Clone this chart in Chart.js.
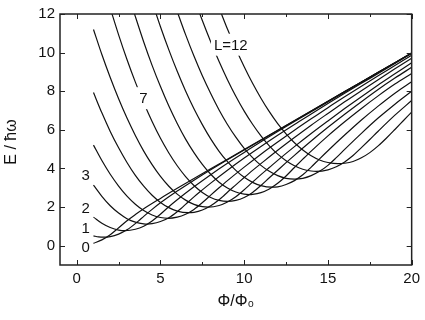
<!DOCTYPE html>
<html><head><meta charset="utf-8">
<script src="https://cdn.jsdelivr.net/npm/chart.js@4.4.0/dist/chart.umd.min.js"></script>
<style>html,body{margin:0;padding:0;background:#fff;}#wrap{width:425px;height:320px;position:relative;}</style>
</head><body><div id="wrap"><canvas id="c"></canvas></div>
<script>
// ---- data ----
const L0x = [1, 1.5, 2, 2.41, 3, 3.5, 4, 5, 6, 7, 8, 10, 12, 14, 16, 18, 20];
const L0y = [0.12, 0.30, 0.57, 0.86, 1.29, 1.61, 1.91, 2.45, 2.97, 3.48, 3.98, 4.98, 5.98, 6.98, 7.98, 8.98, 9.98];
const L1x = [1, 1.3, 1.6, 2, 2.5, 3, 3.66, 4, 4.5, 5, 6, 7, 8, 9, 10, 12, 14, 16, 18, 20];
const L1y = [0.51, 0.457, 0.44, 0.47, 0.60, 0.82, 1.26, 1.52, 1.88, 2.22, 2.83, 3.39, 3.93, 4.45, 4.96, 5.97, 6.98, 7.98, 8.98, 9.98];
const L2x = [1, 1.5, 2, 2.5, 2.9, 3.5, 4, 4.5, 4.96, 5.5, 6, 7, 8, 9, 10, 11, 12, 13, 14, 16, 18, 20];
const L2y = [1.48, 1.16, 0.94, 0.81, 0.78, 0.85, 1.01, 1.28, 1.60, 2.02, 2.38, 3.05, 3.68, 4.27, 4.83, 5.38, 5.91, 6.43, 6.94, 7.96, 8.97, 9.98];
const L3x = [1, 1.5, 2, 2.5, 3, 3.5, 4, 4.2, 4.5, 5, 5.5, 6, 6.23, 6.5, 7, 7.5, 8, 9, 10, 11, 12, 13, 14, 15, 16, 17, 18, 19, 20];
const L3y = [3.14, 2.56, 2.07, 1.69, 1.40, 1.22, 1.13, 1.12, 1.14, 1.25, 1.45, 1.76, 1.93, 2.14, 2.53, 2.89, 3.24, 3.91, 4.54, 5.14, 5.72, 6.28, 6.82, 7.36, 7.89, 8.41, 8.92, 9.44, 9.95];
const L4x = [1, 1.5, 2, 2.5, 3, 3.5, 4, 4.5, 5, 5.45, 6, 6.5, 7, 7.54, 8, 8.5, 9, 10, 11, 12, 13, 14, 15, 16, 17, 18, 19, 20];
const L4y = [5.21, 4.41, 3.70, 3.09, 2.57, 2.15, 1.82, 1.59, 1.46, 1.42, 1.48, 1.63, 1.88, 2.26, 2.62, 3.00, 3.37, 4.07, 4.74, 5.37, 5.98, 6.57, 7.15, 7.71, 8.26, 8.80, 9.33, 9.86];
const L5x = [1, 1.5, 2, 2.5, 3, 3.5, 4, 4.5, 5, 5.5, 6, 6.65, 7, 7.5, 8, 8.5, 8.7, 9, 9.5, 10, 10.5, 11, 12, 13, 14, 15, 16, 17, 18, 19, 20];
const L5y = [7.93, 6.88, 5.92, 5.07, 4.31, 3.64, 3.08, 2.61, 2.24, 1.97, 1.79, 1.71, 1.73, 1.85, 2.07, 2.38, 2.53, 2.77, 3.15, 3.53, 3.90, 4.25, 4.94, 5.60, 6.24, 6.85, 7.45, 8.03, 8.60, 9.16, 9.71];
const L6x = [1, 1.5, 2, 2.5, 3, 3.5, 4, 4.5, 5, 5.5, 6, 6.5, 7, 7.5, 7.85, 8.5, 9, 9.5, 9.9, 10.5, 11, 11.5, 12, 13, 14, 15, 16, 17, 18, 19, 20];
const L6y = [11.2, 9.9, 8.71, 7.61, 6.61, 5.71, 4.9, 4.2, 3.59, 3.08, 2.67, 2.36, 2.14, 2.02, 2.0, 2.08, 2.26, 2.53, 2.82, 3.29, 3.68, 4.05, 4.42, 5.13, 5.81, 6.46, 7.10, 7.72, 8.32, 8.90, 9.48];
const L7x = [2, 2.5, 3, 3.5, 4, 4.5, 5, 5.5, 6, 6.5, 7, 7.5, 8, 8.5, 9, 9.5, 10, 10.5, 11, 11.5, 12, 12.5, 13, 14, 15, 16, 17, 18, 19, 20];
const L7y = [12.3, 10.92, 9.64, 8.47, 7.4, 6.43, 5.56, 4.8, 4.14, 3.58, 3.12, 2.76, 2.5, 2.35, 2.3, 2.35, 2.5, 2.76, 3.12, 3.52, 3.91, 4.30, 4.68, 5.42, 6.13, 6.81, 7.46, 8.09, 8.68, 9.24];
const L8x = [3.3, 4, 4.5, 5, 5.5, 6, 6.5, 7, 7.5, 8, 8.5, 9, 9.5, 10, 10.3, 10.5, 11, 11.5, 12, 12.5, 13, 13.5, 14, 15, 16, 17, 18, 19, 20];
const L8y = [12.4, 10.55, 9.34, 8.24, 7.23, 6.33, 5.52, 4.82, 4.21, 3.70, 3.29, 2.99, 2.78, 2.67, 2.65, 2.66, 2.75, 2.94, 3.23, 3.61, 4.05, 4.48, 4.90, 5.69, 6.42, 7.11, 7.76, 8.37, 8.92];
const L9x = [4.6, 5, 5.5, 6, 6.5, 7, 7.5, 8, 8.5, 9, 9.5, 10, 10.5, 11, 11.65, 12, 12.5, 13, 13.5, 14, 14.5, 15, 16, 17, 18, 19, 20];
const L9y = [12.37, 11.34, 10.14, 9.03, 8.01, 7.09, 6.27, 5.53, 4.89, 4.35, 3.90, 3.54, 3.28, 3.11, 3.03, 3.05, 3.17, 3.37, 3.67, 4.07, 4.50, 4.92, 5.73, 6.51, 7.23, 7.90, 8.49];
const L10x = [5.9, 6.5, 7, 7.5, 8, 8.5, 9, 9.5, 10, 10.5, 11, 11.5, 12, 12.5, 13, 13.5, 14, 14.5, 15, 15.5, 16, 17, 18, 19, 20];
const L10y = [12.37, 10.93, 9.82, 8.8, 7.88, 7.03, 6.28, 5.62, 5.04, 4.56, 4.16, 3.85, 3.63, 3.49, 3.45, 3.49, 3.63, 3.85, 4.16, 4.56, 4.99, 5.82, 6.61, 7.33, 8.0];
const L11x = [7.2, 7.5, 8, 8.5, 9, 9.5, 10, 10.5, 11, 11.5, 12, 12.5, 13, 13.5, 14, 14.3, 15, 15.5, 16, 16.5, 17, 17.5, 18, 19, 20];
const L11y = [12.37, 11.66, 10.56, 9.54, 8.6, 7.74, 6.97, 6.29, 5.69, 5.17, 4.74, 4.40, 4.14, 3.96, 3.87, 3.85, 3.93, 4.09, 4.34, 4.67, 5.08, 5.50, 5.93, 6.76, 7.52];
const L12x = [8.5, 9, 9.5, 10, 10.5, 11, 11.5, 12, 12.5, 13, 13.5, 14, 14.5, 15, 15.6, 16, 16.5, 17, 17.5, 18, 18.5, 19, 19.5, 20];
const L12y = [12.32, 11.22, 10.2, 9.27, 8.41, 7.64, 6.94, 6.32, 5.79, 5.33, 4.96, 4.66, 4.44, 4.31, 4.25, 4.27, 4.36, 4.55, 4.82, 5.17, 5.58, 6.02, 6.47, 6.92];

const xTicks = [0, 5, 10, 15, 20];
const xMinorTicks = [2.5, 7.5, 12.5, 17.5];
const yTicks = [0, 2, 4, 6, 8, 10, 12];
const curveLabels = ['0', '1', '2', '3', '7', 'L=12'];
const curveLabelX = [0.53, 0.53, 0.53, 0.53, 3.98, 9.2];
const curveLabelY = [-0.05, 0.92, 1.98, 3.66, 7.64, 10.41];
const xTitle = 'Φ/Φ₀';
const yTitle = 'E / ħω';

// ---- chart ----
const curves = [[L0x,L0y],[L1x,L1y],[L2x,L2y],[L3x,L3y],[L4x,L4y],[L5x,L5y],[L6x,L6y],
                [L7x,L7y],[L8x,L8y],[L9x,L9y],[L10x,L10y],[L11x,L11y],[L12x,L12y]];
const FONT = '"Liberation Sans", Arial, sans-serif';
const INK = '#111';

const datasets = curves.map(([xs, ys], i) => ({
  label: 'L=' + i,
  data: xs.map((x, j) => ({x: x, y: ys[j]})),
  borderColor: INK,
  borderWidth: 1.2,
  pointRadius: 0,
  fill: false,
  cubicInterpolationMode: 'monotone'
}));

const decor = {
  id: 'decor',
  afterDatasetsDraw(chart) {
    const {ctx, chartArea: a, scales: {x, y}} = chart;
    ctx.save();
    // curve labels with white backing
    ctx.font = '15px ' + FONT;
    ctx.textAlign = 'center';
    ctx.textBaseline = 'middle';
    curveLabels.forEach((t, i) => {
      const px = x.getPixelForValue(curveLabelX[i]);
      const py = y.getPixelForValue(curveLabelY[i]);
      const w = ctx.measureText(t).width;
      if (i >= 4) {
        ctx.fillStyle = '#fff';
        ctx.fillRect(px - w / 2 - 3, py - 11, w + 6, 22);
      }
      ctx.fillStyle = INK;
      ctx.fillText(t, px, py + 1);
    });
    // frame
    ctx.strokeStyle = '#222';
    ctx.lineWidth = 1.5;
    ctx.strokeRect(a.left, a.top, a.right - a.left, a.bottom - a.top);
    // inward ticks
    ctx.lineWidth = 1;
    ctx.beginPath();
    xTicks.forEach(v => {
      const px = Math.round(x.getPixelForValue(v)) + 0.5;
      ctx.moveTo(px, a.bottom); ctx.lineTo(px, a.bottom - 5);
      ctx.moveTo(px, a.top); ctx.lineTo(px, a.top + 5);
    });
    xMinorTicks.forEach(v => {
      const px = Math.round(x.getPixelForValue(v)) + 0.5;
      ctx.moveTo(px, a.bottom); ctx.lineTo(px, a.bottom - 3);
      ctx.moveTo(px, a.top); ctx.lineTo(px, a.top + 3);
    });
    yTicks.forEach(v => {
      const py = Math.round(y.getPixelForValue(v)) + 0.5;
      ctx.moveTo(a.left, py); ctx.lineTo(a.left + 5, py);
      ctx.moveTo(a.right, py); ctx.lineTo(a.right - 5, py);
    });
    ctx.stroke();
    // axis titles
    ctx.fillStyle = INK;
    ctx.font = '16px ' + FONT;
    ctx.textAlign = 'center';
    ctx.textBaseline = 'middle';
    ctx.fillText(xTitle, (a.left + a.right) / 2, 302);
    ctx.translate(12, 142);
    ctx.rotate(-Math.PI / 2);
    ctx.fillText(yTitle, 0, 0);
    ctx.restore();
  }
};

new Chart(document.getElementById('c'), {
  type: 'line',
  data: {datasets},
  options: {
    responsive: true,
    maintainAspectRatio: false,
    animation: false,
    events: [],
    layout: {padding: {top: 9, right: 12, left: 0, bottom: 0}},
    plugins: {legend: {display: false}, tooltip: {enabled: false}},
    scales: {
      x: {
        type: 'linear', min: -1, max: 20,
        afterBuildTicks: s => { s.ticks = xTicks.map(v => ({value: v})); },
        afterFit: s => { s.height = 55; },
        ticks: {font: {family: FONT, size: 15}, color: INK, padding: 5, maxRotation: 0, autoSkip: false},
        grid: {display: false, drawTicks: false},
        border: {display: false}
      },
      y: {
        type: 'linear', min: -1, max: 12,
        afterBuildTicks: s => { s.ticks = yTicks.map(v => ({value: v})); },
        afterFit: s => { s.width = 60; },
        ticks: {font: {family: FONT, size: 15}, color: INK, padding: 5, autoSkip: false},
        grid: {display: false, drawTicks: false},
        border: {display: false}
      }
    }
  },
  plugins: [decor]
});
</script>
</body></html>
